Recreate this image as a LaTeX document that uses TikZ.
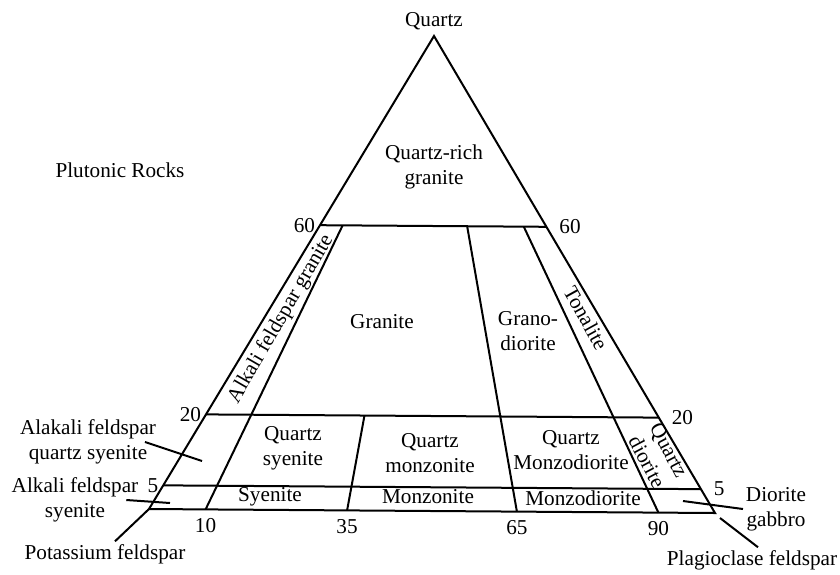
\documentclass[tikz,border=0pt]{standalone}
\usepackage{fontspec}
\setmainfont{Liberation Serif}
\usetikzlibrary{calc}

\begin{document}
\begin{tikzpicture}[x=0.5pt, y=-0.5pt, line width=1pt,
    every node/.style={font=\fontsize{10.6}{12.5}\selectfont, inner sep=1pt},
    region/.style={align=center}]
    \useasboundingbox (0,0) rectangle (840,574);

    % Triangle
    \coordinate (Q) at (434,36);
    \coordinate (K) at (149,509);
    \coordinate (P) at (715,513);
    \draw (Q) -- (K) -- (P) -- cycle;

    % Quartz levels
    \foreach \lvl/\t in {60/0.4, 20/0.8, 5/0.95} {
        \coordinate (L\lvl) at ($(Q)!\t!(K)$);
        \coordinate (R\lvl) at ($(Q)!\t!(P)$);
        \draw (L\lvl) -- (R\lvl);
        \node[left=1pt] (nl\lvl) at (L\lvl) {\lvl};
        \node[right=5pt] (nr\lvl) at (R\lvl) {\lvl};
    }

    % Plagioclase ratio lines
    \foreach \p/\t in {10/0.6, 35/0.2, 65/0.6, 90/0.6} {
        \coordinate (B\p) at ($(K)!\p/100!(P)$);
        \draw (B\p) -- ($(B\p)!\t!(Q)$);
        \node[below=3pt] (nb\p) at (B\p) {\p};
    }

    % Fields
    \node (qtz) at (434,21) {Quartz};
    \node (plut) at (120,170) {Plutonic Rocks};
    \node[region] (qrg) at (434,167) {Quartz-rich\\granite};
    \node[rotate=60] (afg) at (281,319) {Alkali feldspar granite};
    \node (gran) at (382,322) {Granite};
    \node[region] (grd) at (528,331) {Grano-\\diorite};
    \node[rotate=-61] (ton) at (586,318) {Tonalite};
    \node[region] (qsy) at (293,448) {Quartz\\syenite};
    \node[region] (qmz) at (430,453) {Quartz\\monzonite};
    \node[region] (qmzd) at (571,450) {Quartz\\Monzodiorite};
    \node[region, rotate=-62] (qdi) at (658,456) {Quartz\\diorite};
    \node (sy) at (270,497) {Syenite};
    \node (mz) at (428,497) {Monzonite};
    \node (mzd) at (583,498) {Monzodiorite};

    % Outside labels and leaders
    \node[region] (afqs) at (88,442) {Alakali feldspar\\quartz syenite};
    \node[region] (afs) at (75,500) {Alkali feldspar\\syenite};
    \node (kfs) at (105,554) {Potassium feldspar};
    \node (plag) at (752,560) {Plagioclase feldspar};
    \node[region] (dgb) at (776,509) {Diorite\\gabbro};
    \coordinate (afqsEnd) at (202,461);
    \coordinate (afsEnd) at (170,503);
    \coordinate (dgbStart) at (683,501);
    \draw ([xshift=-7pt]afqs.east) -- (afqsEnd);
    \draw ([xshift=-7.5pt]afs.east) -- (afsEnd);
    \draw (K) -- ([xshift=5pt]kfs.north);
    \draw ($(P)+(5,5)$) -- ([xshift=3pt]plag.north);
    \draw (dgbStart) -- (dgb.west);
\end{tikzpicture}
\end{document}
